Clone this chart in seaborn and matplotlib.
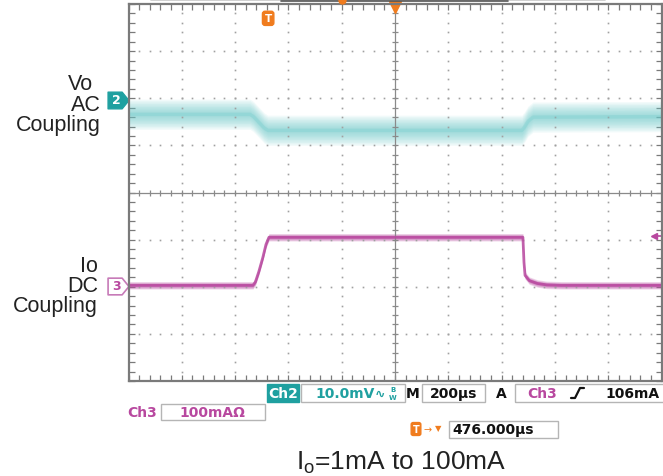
import numpy as np
import matplotlib
matplotlib.use("Agg")
import matplotlib.pyplot as plt
import seaborn as sns
from matplotlib.patches import Rectangle
from matplotlib.lines import Line2D
from matplotlib.path import Path
import matplotlib.transforms as mtransforms

# ---------------------------
# data read from the scope shot (time in us from trigger)
# ---------------------------
t_vo = [-524, -68, -55, -35, -15, -1, 952, 962, 975, 994, 1476]
vo_mv = [-3.1, -3.1, -3.6, -4.8, -6.0, -6.5, -6.5, -5.8, -4.6, -3.7, -3.6]

t_io = [-524, -57, -48, -35, -20, -8, 3, 956, 960, 964, 980, 1010, 1045, 1100, 1476]
io_ma = [1, 1, 8, 30, 60, 88, 103, 103, 50, 22, 11, 5, 2, 1, 1]

vo_scale = 10.0     # mV/div
io_scale = 100.0    # mA/div
vo_pos = 1.97       # div
io_pos = -1.98      # div
trig_level = 106.0  # mA
h_pos = 476.0       # us at center
t_div = 200.0       # us/div

# channel colours
teal = "#6ccaca"
teal_dark = "#1fa0a0"
magenta = "#b8489f"
orange = "#f07c1e"
grey = "#7a7a7a"

W, H = 663, 477

sns.set_theme(style="white")
plt.rcParams["font.family"] = ["Liberation Sans", "DejaVu Sans"]
plt.rcParams["mathtext.default"] = "regular"

fig = plt.figure(figsize=(W / 100, H / 100), dpi=100)
ax = fig.add_axes([128.5 / W, 1 - 382 / H, 533 / W, 377 / H])

x0 = h_pos - 5 * t_div
x1 = h_pos + 5 * t_div
ax.set_xlim(x0, x1)
ax.set_ylim(-4, 4)

# ---------------------------
# graticule
# ---------------------------
xmaj = np.arange(x0, x1 + 1, t_div)
xmin = np.arange(x0, x1 + 1, t_div / 5)
ymaj = np.arange(-4, 5, 1.0)
ymin = np.arange(-4, 4.01, 0.2)
ax.set_xticks(xmaj)
ax.set_xticks(xmin, minor=True)
ax.set_yticks(ymaj)
ax.set_yticks(ymin, minor=True)
ax.tick_params(which="both", direction="in", length=4.5, width=0.9, color=grey,
               top=True, right=True, bottom=True, left=True,
               labelbottom=False, labelleft=False)
for s in ax.spines.values():
    s.set_color(grey)
    s.set_linewidth(1.6)

dot_kw = dict(ls="none", marker="s", ms=1.2, color="#a0a0a0", mew=0)
for xv in xmaj[1:-1]:
    if abs(xv - h_pos) > 1:
        ax.plot(np.full(len(ymin[1:-1]), xv), ymin[1:-1], **dot_kw)
for yv in ymaj[1:-1]:
    if yv != 0:
        ax.plot(xmin[1:-1], np.full(len(xmin[1:-1]), yv), **dot_kw)
ax.axvline(h_pos, color="#8a8a8a", lw=0.9)
ax.axhline(0, color="#8a8a8a", lw=0.9)
ax.plot(np.full(len(ymin), h_pos), ymin, ls="none", marker="_", ms=5, mew=0.9, color="#8a8a8a")
ax.plot(xmin, np.zeros(len(xmin)), ls="none", marker="|", ms=5, mew=0.9, color="#8a8a8a")

# ---------------------------
# traces (noise drawn as a soft envelope)
# ---------------------------
vo_div = np.array(vo_mv) / vo_scale + vo_pos
io_div = np.array(io_ma) / io_scale + io_pos

for half in np.linspace(3.2, 0.4, 10):
    ax.fill_between(t_vo, vo_div - half / vo_scale, vo_div + half / vo_scale,
                    color=teal, alpha=0.09, lw=0)
sns.lineplot(x=t_vo, y=vo_div, ax=ax, color=teal, lw=2.5, alpha=0.25)

for half in np.linspace(8.0, 2.0, 5):
    ax.fill_between(t_io, io_div - half / io_scale, io_div + half / io_scale,
                    color=magenta, alpha=0.2, lw=0)
sns.lineplot(x=t_io, y=io_div, ax=ax, color=magenta, lw=2.0, alpha=0.85)

# ---------------------------
# markers around the screen
# ---------------------------
tag = Path([(-1.0, -0.8), (0.35, -0.8), (1.0, 0.0), (0.35, 0.8), (-1.0, 0.8), (-1.0, -0.8)],
           [Path.MOVETO, Path.LINETO, Path.LINETO, Path.LINETO, Path.LINETO, Path.CLOSEPOLY])
left_tr = mtransforms.blended_transform_factory(ax.transAxes, ax.transData)
ax.plot([-0.02], [vo_pos], marker=tag, ms=15, color=teal_dark, mec=teal_dark,
        transform=left_tr, clip_on=False)
ax.text(-0.022, vo_pos, "2", color="white", fontsize=9, fontweight="bold",
        family="DejaVu Sans", ha="center", va="center", transform=left_tr)
ax.plot([-0.02], [io_pos], marker=tag, ms=15, color="white", mec="#c77bb8", mew=1.2,
        transform=left_tr, clip_on=False)
ax.text(-0.022, io_pos, "3", color=magenta, fontsize=9, fontweight="bold",
        family="DejaVu Sans", ha="center", va="center", transform=left_tr)

# trigger level arrow on the right
tl = trig_level / io_scale + io_pos
ax.plot([0.985], [tl], marker="<", ms=5, color=magenta, transform=left_tr, clip_on=False)
ax.plot([0.985, 1.0], [tl, tl], color=magenta, lw=1.2, transform=left_tr, clip_on=False)

# trigger point and horizontal position
top_tr = mtransforms.blended_transform_factory(ax.transData, ax.transAxes)
ax.text(0, 0.962, "T", color="white", fontsize=7.5, fontweight="bold", family="DejaVu Sans",
        ha="center", va="center", transform=top_tr,
        bbox=dict(boxstyle="round,pad=0.2,rounding_size=0.25", fc=orange, ec=orange))
ax.plot([h_pos], [0.993], marker="v", ms=8, color=orange, transform=top_tr, clip_on=False)

# record bar cut off at the top
fig.add_artist(Line2D([151 / W, 605 / W], [1 - 1 / H, 1 - 1 / H], color="#c8c8c8", lw=1.2))
fig.add_artist(Line2D([281 / W, 508 / W], [1 - 1.5 / H, 1 - 1.5 / H], color="#555555", lw=1.2))
fig.add_artist(Line2D([342 / W], [1 - 0.5 / H], marker="o", ms=5, color=orange))

# ---------------------------
# side labels
# ---------------------------
lab_kw = dict(fontsize=15.5, color="#222222", ha="right", va="baseline")
fig.text(93 / W, 1 - 90 / H, "Vo", **lab_kw)
fig.text(101 / W, 1 - 111 / H, "AC", **lab_kw)
fig.text(101 / W, 1 - 131 / H, "Coupling", **lab_kw)
fig.text(98 / W, 1 - 272 / H, "Io", **lab_kw)
fig.text(98 / W, 1 - 292 / H, "DC", **lab_kw)
fig.text(98 / W, 1 - 312 / H, "Coupling", **lab_kw)

# ---------------------------
# readouts below the screen
# ---------------------------
def box(xa, ya, xb, yb, fc="none", ec="#b5b5b5"):
    fig.add_artist(Rectangle((xa / W, 1 - yb / H), (xb - xa) / W, (yb - ya) / H,
                             transform=fig.transFigure, fc=fc, ec=ec, lw=1.0))

def rtext(x, y, s, color="#111111", ha="left", size=10):
    fig.text(x / W, 1 - y / H, s, color=color, fontsize=size, fontweight="bold",
             family="DejaVu Sans", ha=ha, va="center")

# row 1
box(267, 385, 299, 403, fc=teal_dark, ec=teal_dark)
rtext(283, 394, "Ch2", color="white", ha="center")
box(301, 385, 405, 403)
rtext(315, 394, "10.0mV", color=teal_dark)
rtext(375, 394, "∿", color=teal_dark, size=9)
rtext(390, 390, "B", color=teal_dark, size=5)
rtext(389, 398, "W", color=teal_dark, size=5)
rtext(406, 394, "M")
box(422, 385, 485, 403)
rtext(430, 394, "200µs")
rtext(496, 394, "A")
box(515, 385, 670, 403)
rtext(527, 394, "Ch3", color=magenta)
fig.add_artist(Line2D([np.array([571, 575, 580, 584]) / W],
                      [1 - np.array([399, 399, 389, 389]) / H], color="#111111", lw=1.6))
rtext(660, 394, "106mA", ha="right")

# row 2
rtext(127, 413, "Ch3", color=magenta)
box(161, 405, 265, 421)
rtext(179, 413, "100mAΩ", color=magenta)

# row 3
fig.text(416 / W, 1 - 430 / H, "T", color="white", fontsize=7, fontweight="bold",
         family="DejaVu Sans", ha="center", va="center",
         bbox=dict(boxstyle="round,pad=0.15,rounding_size=0.2", fc=orange, ec=orange))
fig.text(424 / W, 1 - 430 / H, "→", color=orange, fontsize=7, family="DejaVu Sans",
         va="center")
fig.text(435 / W, 1 - 429 / H, "▼", color=orange, fontsize=6, family="DejaVu Sans",
         va="center")
box(449, 422, 558, 439)
rtext(452, 430.5, "476.000µs")

# caption
fig.text(401 / W, 1 - 470 / H, "I$_o$=1mA to 100mA", fontsize=19, color="#222222",
         ha="center", va="baseline")

fig.savefig("out.png", dpi=100, facecolor="white")
